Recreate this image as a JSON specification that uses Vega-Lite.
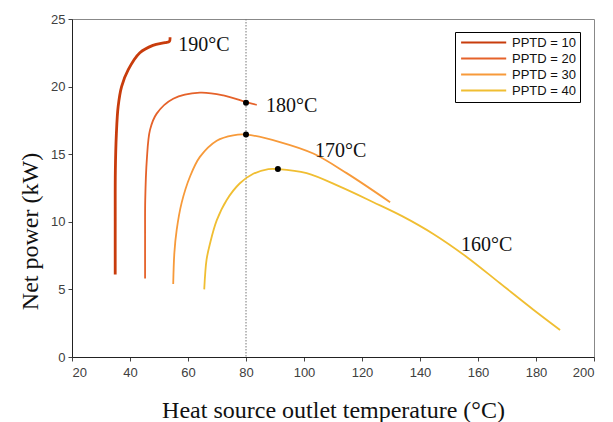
{
  "$schema": "https://vega.github.io/schema/vega-lite/v6.json",
  "width": 522,
  "height": 338,
  "autosize": "none",
  "padding": {"left": 72, "top": 19, "right": 19, "bottom": 65},
  "background": "white",
  "config": {
    "view": {"stroke": "#888", "strokeWidth": 1},
    "axis": {
      "grid": false,
      "domain": true,
      "ticks": true,
      "domainWidth": 1,
      "tickWidth": 1,
      "labelFont": "Liberation Sans",
      "labelFontSize": 13,
      "labelColor": "#404040",
      "domainColor": "#222",
      "tickColor": "#444",
      "tickSize": 4,
      "titleFont": "Liberation Serif",
      "titleFontSize": 24,
      "titleFontWeight": "normal",
      "titleColor": "#111"
    }
  },
  "datasets": {
    "curves": [
      {"series": 10, "o": 1, "x": 34.9, "y": 6.1},
      {"series": 10, "o": 2, "x": 34.9, "y": 10.0},
      {"series": 10, "o": 3, "x": 34.95, "y": 13.8},
      {"series": 10, "o": 4, "x": 35.3, "y": 16.5},
      {"series": 10, "o": 5, "x": 35.9, "y": 18.5},
      {"series": 10, "o": 6, "x": 37.1, "y": 20.0},
      {"series": 10, "o": 7, "x": 39.4, "y": 21.25},
      {"series": 10, "o": 8, "x": 43.4, "y": 22.5},
      {"series": 10, "o": 9, "x": 47.9, "y": 23.05},
      {"series": 10, "o": 10, "x": 52.1, "y": 23.25},
      {"series": 10, "o": 11, "x": 53.6, "y": 23.35},
      {"series": 10, "o": 12, "x": 53.8, "y": 23.65},
      {"series": 20, "o": 1, "x": 45.2, "y": 5.8},
      {"series": 20, "o": 2, "x": 45.2, "y": 9.0},
      {"series": 20, "o": 3, "x": 45.25, "y": 11.6},
      {"series": 20, "o": 4, "x": 45.8, "y": 14.6},
      {"series": 20, "o": 5, "x": 46.9, "y": 16.8},
      {"series": 20, "o": 6, "x": 49.2, "y": 18.0},
      {"series": 20, "o": 7, "x": 54.9, "y": 19.1},
      {"series": 20, "o": 8, "x": 64.1, "y": 19.55},
      {"series": 20, "o": 9, "x": 72.2, "y": 19.35},
      {"series": 20, "o": 10, "x": 80.2, "y": 18.85},
      {"series": 20, "o": 11, "x": 83.7, "y": 18.65},
      {"series": 30, "o": 1, "x": 54.9, "y": 5.4},
      {"series": 30, "o": 2, "x": 55.3, "y": 7.7},
      {"series": 30, "o": 3, "x": 56.1, "y": 9.4},
      {"series": 30, "o": 4, "x": 57.8, "y": 11.4},
      {"series": 30, "o": 5, "x": 60.7, "y": 13.35},
      {"series": 30, "o": 6, "x": 64.1, "y": 14.8},
      {"series": 30, "o": 7, "x": 69.9, "y": 16.0},
      {"series": 30, "o": 8, "x": 75.6, "y": 16.4},
      {"series": 30, "o": 9, "x": 80.2, "y": 16.45},
      {"series": 30, "o": 10, "x": 91.7, "y": 15.9},
      {"series": 30, "o": 11, "x": 103.2, "y": 15.05},
      {"series": 30, "o": 12, "x": 114.7, "y": 13.6},
      {"series": 30, "o": 13, "x": 129.7, "y": 11.45},
      {"series": 40, "o": 1, "x": 65.6, "y": 5.0},
      {"series": 40, "o": 2, "x": 66.4, "y": 7.2},
      {"series": 40, "o": 3, "x": 67.6, "y": 8.4},
      {"series": 40, "o": 4, "x": 69.9, "y": 10.1},
      {"series": 40, "o": 5, "x": 73.3, "y": 11.6},
      {"series": 40, "o": 6, "x": 77.9, "y": 12.85},
      {"series": 40, "o": 7, "x": 82.5, "y": 13.55},
      {"series": 40, "o": 8, "x": 87.7, "y": 13.9},
      {"series": 40, "o": 9, "x": 91.1, "y": 13.9},
      {"series": 40, "o": 10, "x": 100.9, "y": 13.6},
      {"series": 40, "o": 11, "x": 112.4, "y": 12.6},
      {"series": 40, "o": 12, "x": 123.9, "y": 11.45},
      {"series": 40, "o": 13, "x": 134.0, "y": 10.4},
      {"series": 40, "o": 14, "x": 144.6, "y": 9.1},
      {"series": 40, "o": 15, "x": 156.1, "y": 7.4},
      {"series": 40, "o": 16, "x": 167.6, "y": 5.45},
      {"series": 40, "o": 17, "x": 179.1, "y": 3.5},
      {"series": 40, "o": 18, "x": 188.3, "y": 2.0}
    ],
    "dots": [
      {"x": 80, "y": 18.8},
      {"x": 80, "y": 16.45},
      {"x": 91, "y": 13.9}
    ],
    "labels": [
      {"x": 56.6, "y": 23.1, "text": "190°C"},
      {"x": 86.9, "y": 18.6, "text": "180°C"},
      {"x": 103.8, "y": 15.2, "text": "170°C"},
      {"x": 154.1, "y": 8.3, "text": "160°C"}
    ],
    "vline": [{"x": 80}]
  },
  "layer": [
    {
      "data": {"name": "vline"},
      "mark": {"type": "rule", "color": "#777", "strokeWidth": 1, "strokeDash": [1.5, 1.5]},
      "encoding": {
        "x": {"field": "x", "type": "quantitative", "scale": {"domain": [20, 200], "nice": false},
          "axis": {"values": [20,40,60,80,100,120,140,160,180,200], "title": "Heat source outlet temperature (°C)", "labelPadding": 5, "titleX": 261, "titleY": 53, "titleBaseline": "middle", "titleAlign": "center"}}
      }
    },
    {
      "data": {"name": "curves"},
      "transform": [{"filter": "datum.series != 10"}],
      "mark": {"type": "line", "interpolate": "catmull-rom", "strokeWidth": 1.8},
      "encoding": {
        "x": {"field": "x", "type": "quantitative"},
        "y": {"field": "y", "type": "quantitative", "scale": {"domain": [0, 25], "nice": false},
          "axis": {"values": [0,5,10,15,20,25], "title": "Net power (kW)", "labelPadding": 3, "titleX": -42, "titleY": 212, "titleAngle": -90, "titleAlign": "center", "titleBaseline": "middle"}},
        "order": {"field": "o", "type": "quantitative"},
        "color": {
          "field": "series", "type": "ordinal",
          "scale": {"domain": [10, 20, 30, 40], "range": ["#C83C0C", "#E5622A", "#F79A3A", "#F0BE32"]},
          "legend": {
            "title": null,
            "orient": "none",
            "legendX": 383,
            "legendY": 13,
            "labelExpr": "'PPTD = ' + datum.label",
            "labelFont": "Liberation Sans",
            "labelFontSize": 13,
            "labelColor": "#111",
            "symbolType": "M-0.8,0H7.4",
            "symbolSize": 121,
            "symbolStrokeWidth": 2,
            "labelOffset": 40,
            "rowPadding": 2,
            "padding": 4,
            "strokeColor": "#000",
            "fillColor": "#fff"
          }
        }
      }
    },
    {
      "data": {"name": "curves"},
      "transform": [{"filter": "datum.series == 10"}],
      "mark": {"type": "line", "interpolate": "catmull-rom", "strokeWidth": 2.8},
      "encoding": {
        "x": {"field": "x", "type": "quantitative"},
        "y": {"field": "y", "type": "quantitative"},
        "order": {"field": "o", "type": "quantitative"},
        "color": {"field": "series", "type": "ordinal"}
      }
    },
    {
      "data": {"name": "dots"},
      "mark": {"type": "circle", "color": "#000", "size": 36, "opacity": 1},
      "encoding": {
        "x": {"field": "x", "type": "quantitative"},
        "y": {"field": "y", "type": "quantitative"}
      }
    },
    {
      "data": {"name": "labels"},
      "mark": {"type": "text", "font": "Liberation Serif", "fontSize": 20, "align": "left", "baseline": "middle", "color": "#111"},
      "encoding": {
        "x": {"field": "x", "type": "quantitative"},
        "y": {"field": "y", "type": "quantitative"},
        "text": {"field": "text"}
      }
    }
  ]
}
